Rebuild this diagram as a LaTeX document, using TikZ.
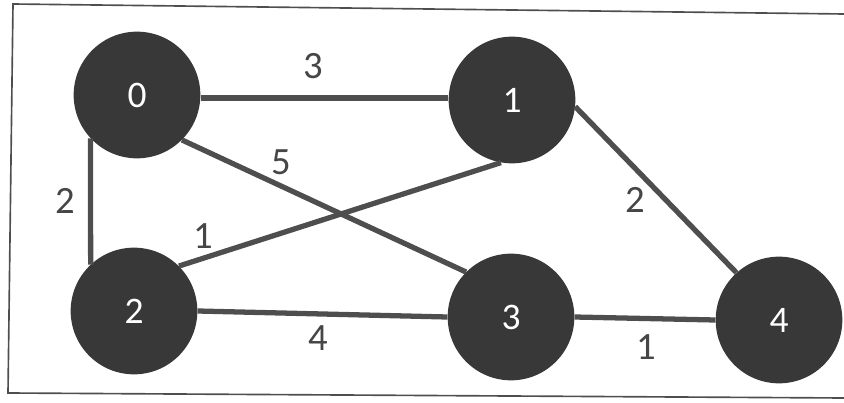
\documentclass[tikz,border=0pt]{standalone}
\usepackage{fontspec}
\setmainfont{Carlito}
\usepackage{xcolor}
\definecolor{vertexgray}{RGB}{56, 56, 56}
\definecolor{edgegray}{RGB}{78, 78, 78}
\definecolor{labelgray}{RGB}{70, 70, 70}
\usetikzlibrary{
  positioning,
  calc
}

\begin{document}
\begin{tikzpicture}[x=0.03cm, y=-0.03cm,
  vertex/.style={circle, fill=vertexgray, minimum size=3.8cm, inner sep=0pt,
                 text=white, font=\fontsize{32}{38}\selectfont},
  wedge/.style={draw=edgegray, line width=4.5pt},
  weight/.style={text=labelgray, font=\fontsize{33}{40}\selectfont}]
\useasboundingbox (0,0) rectangle (844,403);
% frame of the scan
\draw[edgegray, line width=1.4pt] (844,14) -- (13,4) -- (8,393) -- (844,398);

% vertices
\node[vertex] (v0) at (137,95) {0};
\node[vertex] (v1) at (512,100) {1};
\node[vertex] (v2) at (134,311) {2};
\node[vertex] (v3) at (511,317) {3};
\node[vertex] (v4) at (779,320) {4};

% edges
\draw[wedge] (v0.east |- 0,98) -- (v1.west |- 0,98);
\draw[wedge] (v0.223) -- (v2.133);
\draw[wedge] (v0.-45) -- (v3.135);
\draw[wedge] (v2.45) -- (v1.-100);
\draw[wedge] (v2.east) -- (v3.west);
\draw[wedge] (v3.east) -- (v4.west);
\draw[wedge] (v1.-6) -- (v4.132);

% weights
\node[weight] (w01) at (313,66) {3};
\node[weight] (w03) at (281,162) {5};
\node[weight] (w02) at (65,201) {2};
\node[weight] (w21) at (203,236) {1};
\node[weight] (w14) at (635,200) {2};
\node[weight] (w23) at (318,338) {4};
\node[weight] (w34) at (646,347) {1};
\end{tikzpicture}
\end{document}
